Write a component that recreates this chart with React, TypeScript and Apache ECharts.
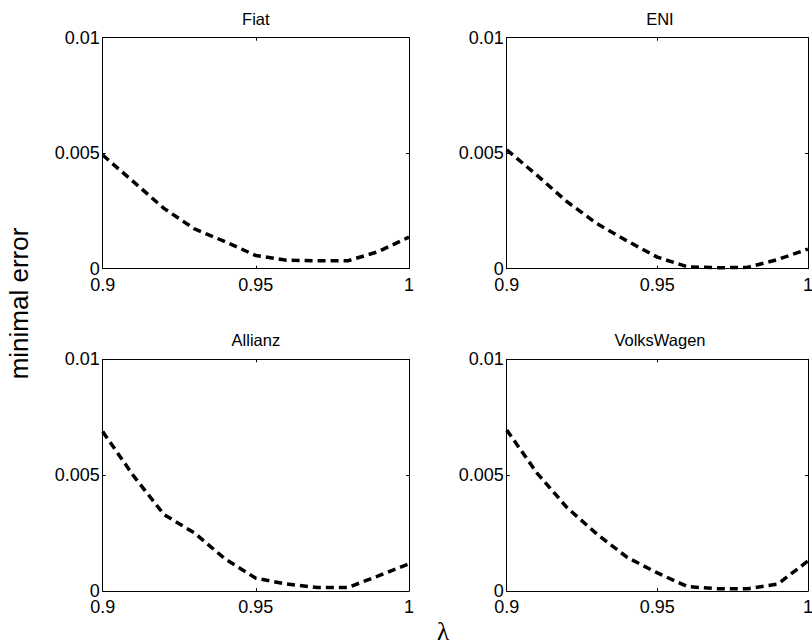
import React, { useEffect, useRef } from "react";
import * as echarts from "echarts";

// lambda grid (x values)
const lambda = [0.9, 0.91, 0.92, 0.93, 0.94, 0.95, 0.96, 0.97, 0.98, 0.99, 1.0];

// minimal error per stock
const fiat = [0.00492, 0.00377, 0.00261, 0.00172, 0.00117, 0.00057, 0.00037, 0.00034, 0.00034, 0.00074, 0.00137];
const eni = [0.00515, 0.00405, 0.0029, 0.00195, 0.0012, 0.0005, 0.00008, 0.00004, 0.00006, 0.0004, 0.00085];
const allianz = [0.00688, 0.00498, 0.0033, 0.0025, 0.00138, 0.00055, 0.0003, 0.00015, 0.00015, 0.00065, 0.00118];
const volkswagen = [0.00695, 0.0051, 0.0036, 0.00245, 0.00145, 0.00078, 0.00019, 0.0001, 0.0001, 0.0003, 0.0013];

const titles = ["Fiat", "ENI", "Allianz", "VolksWagen"];
const seriesValues = [fiat, eni, allianz, volkswagen];

const xMin = 0.9;
const xMax = 1.0;
const xStep = 0.05;
const yMin = 0;
const yMax = 0.01;
const yStep = 0.005;

const yLabelText = "minimal error";
const xLabelText = "λ";

const fmt = (v: number) => String(parseFloat(v.toFixed(4)));

export default function App() {
  const ref = useRef<HTMLDivElement>(null);
  useEffect(() => {
    document.body.style.margin = "0";
    document.body.style.overflow = "hidden";
    document.documentElement.style.overflow = "hidden";
    const chart = echarts.init(ref.current!, null, { renderer: "svg" });
    const grids = [
      { left: 102.7, top: 37.7, width: 306.3, height: 231 },
      { left: 506.7, top: 37.7, width: 306.5, height: 231 },
      { left: 102.7, top: 359.3, width: 306.3, height: 231.7 },
      { left: 506.7, top: 359.3, width: 306.5, height: 231.7 },
    ];
    const font = "'Liberation Sans', Arial, Helvetica, sans-serif";
    const axisLine = { show: true, onZero: false, lineStyle: { color: "#000", width: 1 } };
    const axisTick = { show: true, inside: true, length: 3, lineStyle: { color: "#000", width: 1 } };
    const xAxes: any[] = [];
    const yAxes: any[] = [];
    const series: any[] = [];
    const titleArr: any[] = [];
    grids.forEach((g, i) => {
      xAxes.push({
        type: "value", gridIndex: i, position: "bottom", min: xMin, max: xMax, interval: xStep,
        axisLine, axisTick, splitLine: { show: false },
        axisLabel: { show: true, color: "#000", fontSize: 18, lineHeight: 14, fontFamily: font, margin: 9, formatter: fmt },
      });
      xAxes.push({
        type: "value", gridIndex: i, position: "top", min: xMin, max: xMax, interval: xStep,
        axisLine, axisTick, splitLine: { show: false }, axisLabel: { show: false },
      });
      yAxes.push({
        type: "value", gridIndex: i, position: "left", min: yMin, max: yMax, interval: yStep,
        axisLine, axisTick, splitLine: { show: false },
        axisLabel: { show: true, color: "#000", fontSize: 18, lineHeight: 14, fontFamily: font, margin: 3, formatter: fmt },
      });
      yAxes.push({
        type: "value", gridIndex: i, position: "right", min: yMin, max: yMax, interval: yStep,
        axisLine, axisTick, splitLine: { show: false }, axisLabel: { show: false },
      });
      series.push({
        type: "line",
        name: titles[i],
        xAxisIndex: 2 * i,
        yAxisIndex: 2 * i,
        data: lambda.map((x, k) => [x, seriesValues[i][k]]),
        showSymbol: false,
        symbol: "none",
        lineStyle: { color: "#000", width: 3.5, type: [8, 5], cap: "butt" },
      });
      titleArr.push({
        text: titles[i],
        left: g.left + g.width / 2,
        top: i < 2 ? 10 : 331,
        textAlign: "center",
        padding: 0,
        textStyle: { color: "#000", fontSize: 16.5, fontWeight: "normal", fontFamily: font },
      });
    });
    chart.setOption({
      animation: false,
      backgroundColor: "#fff",
      title: titleArr,
      grid: grids.map((g) => ({ ...g, containLabel: false })),
      xAxis: xAxes,
      yAxis: yAxes,
      series,
      graphic: [
        {
          type: "text",
          x: 19,
          y: 303.5,
          rotation: Math.PI / 2,
          style: {
            text: yLabelText,
            fill: "#000",
            fontSize: 26,
            fontFamily: font,
            textAlign: "center",
            textVerticalAlign: "middle",
          },
        },
        {
          type: "text",
          x: 443,
          y: 619,
          style: {
            text: xLabelText,
            fill: "#000",
            fontSize: 25,
            fontFamily: "'Liberation Serif', 'Times New Roman', serif",
            textAlign: "center",
            textVerticalAlign: "top",
          },
        },
      ],
    });
    return () => chart.dispose();
  }, []);
  return <div ref={ref} style={{ width: 816, height: 644, position: "absolute", left: 0, top: 0 }} />;
}
